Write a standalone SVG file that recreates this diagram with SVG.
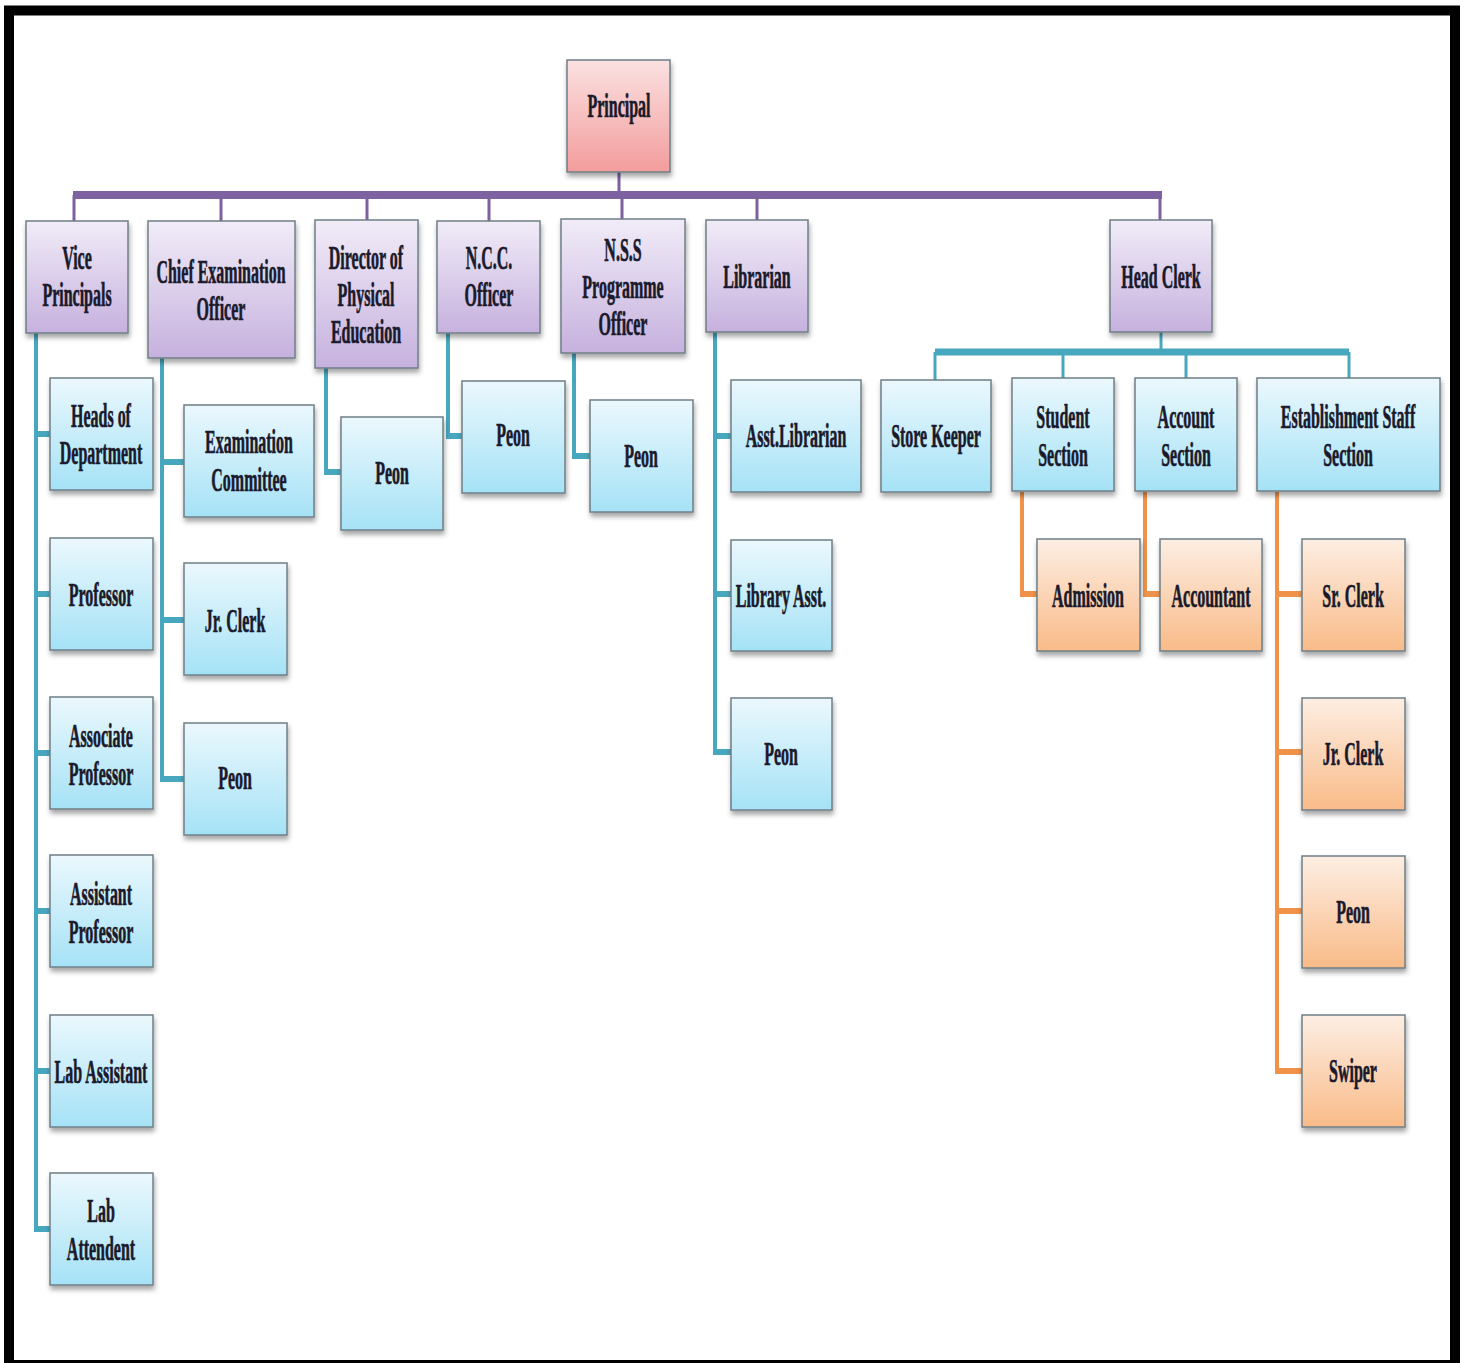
<svg xmlns="http://www.w3.org/2000/svg" width="1466" height="1363" viewBox="0 0 1466 1363">
<defs>
<linearGradient id="gPk" x1="0" y1="0" x2="0" y2="1"><stop offset="0" stop-color="#fbe1e1"/><stop offset="1" stop-color="#f39c9c"/></linearGradient>
<linearGradient id="gPu" x1="0" y1="0" x2="0" y2="1"><stop offset="0" stop-color="#f1ecf8"/><stop offset="1" stop-color="#c6b1de"/></linearGradient>
<linearGradient id="gBl" x1="0" y1="0" x2="0" y2="1"><stop offset="0" stop-color="#ebf8fd"/><stop offset="1" stop-color="#a5e2f6"/></linearGradient>
<linearGradient id="gOr" x1="0" y1="0" x2="0" y2="1"><stop offset="0" stop-color="#fdeee3"/><stop offset="1" stop-color="#f9bb88"/></linearGradient>
<filter id="sh" x="-20%" y="-20%" width="140%" height="140%"><feDropShadow dx="1" dy="4" stdDeviation="2.5" flood-color="#000" flood-opacity="0.35"/></filter>
</defs>
<style>
.box{stroke:#6f7f86;stroke-width:1.5;filter:url(#sh)}
.pk{fill:url(#gPk)}.pu{fill:url(#gPu)}.bl{fill:url(#gBl)}.or{fill:url(#gOr)}
.t{font-family:"Liberation Serif","Times New Roman",serif;font-weight:bold;font-size:34px;fill:#1a1a2c;stroke:#1a1a2c;stroke-width:0.7;text-anchor:middle}
.cp{stroke:#7d61a0;fill:none}
.cb{stroke:#47a7bf;fill:none}
.co{stroke:#f0924a;fill:none}
</style>
<rect x="0" y="0" width="1466" height="1363" fill="#ffffff"/>
<rect x="9" y="10.5" width="1446" height="1354.5" fill="none" stroke="#000" stroke-width="10"/>

<g id="connectors">
<path class="cp" stroke-width="3" d="M619 172V195M74 195V221M221 195V221M367 195V220M489 195V221M622 195V219M757 195V220M1160 195V220"/>
<path class="cp" stroke-width="8" d="M73 195H1162"/>
<path class="cb" stroke-width="4" d="M36 332V1229M162 358V779M326 368V472M448 332V436M574 353V456M715 332V752"/>
<path class="cb" stroke-width="6" d="M34 434H50M34 594H50M34 753H50M34 911H50M34 1071H50M34 1229H50M160 462H184M160 620H184M160 779H184M324 472H341M446 436H462M572 456H590M713 436H731M713 594H731M713 752H731"/>
<path class="cb" stroke-width="3" d="M1161 332V352M935 352V380M1063 352V378M1186 352V378M1349 352V378"/>
<path class="cb" stroke-width="7" d="M935 352H1349"/>
<path class="co" stroke-width="4" d="M1022 492V594M1145 492V594M1277 492V1071"/>
<path class="co" stroke-width="6" d="M1020 594H1037M1143 594H1160M1275 594H1302M1275 752H1302M1275 911H1302M1275 1071H1302"/>
</g>

<g id="n-principal"><rect class="box pk" x="567" y="60" width="103" height="112"/><text class="t" transform="translate(619,117) scale(0.47,1)">Principal</text></g>
<g id="n-vice"><rect class="box pu" x="26" y="221" width="102" height="112"/><text class="t" transform="translate(77,269) scale(0.47,1)"><tspan x="0">Vice</tspan><tspan x="0" dy="37">Principals</tspan></text></g>
<g id="n-chief"><rect class="box pu" x="148" y="221" width="147" height="137"/><text class="t" transform="translate(221,283) scale(0.47,1)"><tspan x="0">Chief Examination</tspan><tspan x="0" dy="37">Officer</tspan></text></g>
<g id="n-director"><rect class="box pu" x="315" y="220" width="103" height="148"/><text class="t" transform="translate(366,269) scale(0.47,1)"><tspan x="0">Director of</tspan><tspan x="0" dy="37">Physical</tspan><tspan x="0" dy="37">Education</tspan></text></g>
<g id="n-ncc"><rect class="box pu" x="437" y="221" width="103" height="112"/><text class="t" transform="translate(489,269) scale(0.47,1)"><tspan x="0">N.C.C.</tspan><tspan x="0" dy="37">Officer</tspan></text></g>
<g id="n-nss"><rect class="box pu" x="561" y="219" width="124" height="134"/><text class="t" transform="translate(623,261) scale(0.47,1)"><tspan x="0">N.S.S</tspan><tspan x="0" dy="37">Programme</tspan><tspan x="0" dy="37">Officer</tspan></text></g>
<g id="n-librarian"><rect class="box pu" x="706" y="220" width="102" height="112"/><text class="t" transform="translate(757,288) scale(0.47,1)">Librarian</text></g>
<g id="n-headclerk"><rect class="box pu" x="1110" y="220" width="102" height="112"/><text class="t" transform="translate(1161,288) scale(0.47,1)">Head Clerk</text></g>

<g id="n-hod"><rect class="box bl" x="50" y="378" width="103" height="112"/><text class="t" transform="translate(101,427) scale(0.47,1)"><tspan x="0">Heads of</tspan><tspan x="0" dy="37">Department</tspan></text></g>
<g id="n-professor"><rect class="box bl" x="50" y="538" width="103" height="112"/><text class="t" transform="translate(101,606) scale(0.47,1)">Professor</text></g>
<g id="n-assoc"><rect class="box bl" x="50" y="697" width="103" height="112"/><text class="t" transform="translate(101,747) scale(0.47,1)"><tspan x="0">Associate</tspan><tspan x="0" dy="38">Professor</tspan></text></g>
<g id="n-asstprof"><rect class="box bl" x="50" y="855" width="103" height="112"/><text class="t" transform="translate(101,905) scale(0.47,1)"><tspan x="0">Assistant</tspan><tspan x="0" dy="38">Professor</tspan></text></g>
<g id="n-labasst"><rect class="box bl" x="50" y="1015" width="103" height="112"/><text class="t" transform="translate(101,1083) scale(0.47,1)">Lab Assistant</text></g>
<g id="n-labatt"><rect class="box bl" x="50" y="1173" width="103" height="112"/><text class="t" transform="translate(101,1222) scale(0.47,1)"><tspan x="0">Lab</tspan><tspan x="0" dy="38">Attendent</tspan></text></g>

<g id="n-examcomm"><rect class="box bl" x="184" y="405" width="130" height="112"/><text class="t" transform="translate(249,453) scale(0.47,1)"><tspan x="0">Examination</tspan><tspan x="0" dy="38">Committee</tspan></text></g>
<g id="n-jrclerk1"><rect class="box bl" x="184" y="563" width="103" height="112"/><text class="t" transform="translate(235,632) scale(0.47,1)">Jr. Clerk</text></g>
<g id="n-peon1"><rect class="box bl" x="184" y="723" width="103" height="112"/><text class="t" transform="translate(235,789) scale(0.47,1)">Peon</text></g>
<g id="n-peon2"><rect class="box bl" x="341" y="417" width="102" height="113"/><text class="t" transform="translate(392,484) scale(0.47,1)">Peon</text></g>
<g id="n-peon3"><rect class="box bl" x="462" y="381" width="103" height="112"/><text class="t" transform="translate(513,446) scale(0.47,1)">Peon</text></g>
<g id="n-peon4"><rect class="box bl" x="590" y="400" width="103" height="112"/><text class="t" transform="translate(641,467) scale(0.47,1)">Peon</text></g>
<g id="n-asstlib"><rect class="box bl" x="731" y="380" width="130" height="112"/><text class="t" transform="translate(796,447) scale(0.47,1)">Asst.Librarian</text></g>
<g id="n-libasst"><rect class="box bl" x="731" y="540" width="101" height="111"/><text class="t" transform="translate(781,607) scale(0.47,1)">Library Asst.</text></g>
<g id="n-peon5"><rect class="box bl" x="731" y="698" width="101" height="112"/><text class="t" transform="translate(781,765) scale(0.47,1)">Peon</text></g>

<g id="n-storekeeper"><rect class="box bl" x="881" y="380" width="110" height="112"/><text class="t" transform="translate(936,447) scale(0.47,1)">Store Keeper</text></g>
<g id="n-student"><rect class="box bl" x="1012" y="378" width="102" height="113"/><text class="t" transform="translate(1063,428) scale(0.47,1)"><tspan x="0">Student</tspan><tspan x="0" dy="38">Section</tspan></text></g>
<g id="n-account"><rect class="box bl" x="1135" y="378" width="102" height="113"/><text class="t" transform="translate(1186,428) scale(0.47,1)"><tspan x="0">Account</tspan><tspan x="0" dy="38">Section</tspan></text></g>
<g id="n-establishment"><rect class="box bl" x="1257" y="378" width="183" height="113"/><text class="t" transform="translate(1348,428) scale(0.47,1)"><tspan x="0">Establishment Staff</tspan><tspan x="0" dy="38">Section</tspan></text></g>

<g id="n-admission"><rect class="box or" x="1037" y="539" width="103" height="112"/><text class="t" transform="translate(1088,607) scale(0.47,1)">Admission</text></g>
<g id="n-accountant"><rect class="box or" x="1160" y="539" width="102" height="112"/><text class="t" transform="translate(1211,607) scale(0.47,1)">Accountant</text></g>
<g id="n-srclerk"><rect class="box or" x="1302" y="539" width="103" height="112"/><text class="t" transform="translate(1353,607) scale(0.47,1)">Sr. Clerk</text></g>
<g id="n-jrclerk2"><rect class="box or" x="1302" y="698" width="103" height="112"/><text class="t" transform="translate(1353,765) scale(0.47,1)">Jr. Clerk</text></g>
<g id="n-peon6"><rect class="box or" x="1302" y="856" width="103" height="112"/><text class="t" transform="translate(1353,923) scale(0.47,1)">Peon</text></g>
<g id="n-swiper"><rect class="box or" x="1302" y="1015" width="103" height="112"/><text class="t" transform="translate(1353,1082) scale(0.47,1)">Swiper</text></g>
</svg>
